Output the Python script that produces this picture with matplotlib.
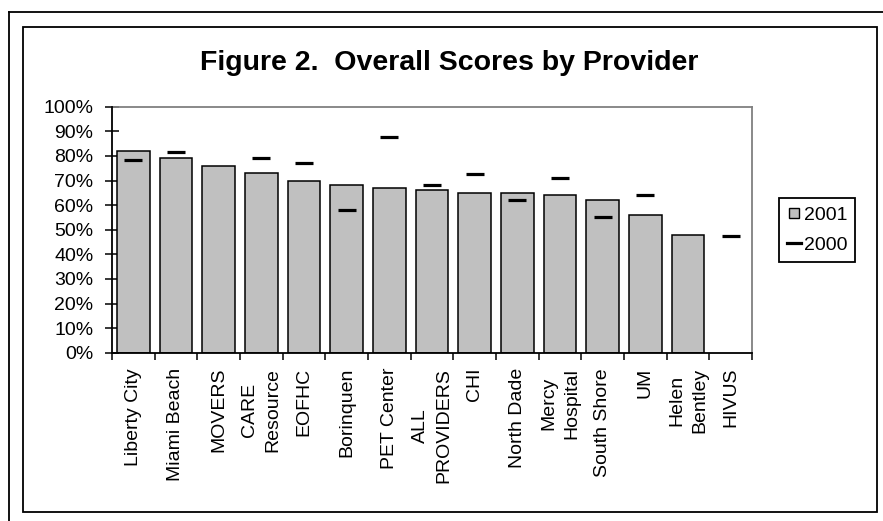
import numpy as np
import matplotlib
matplotlib.use("Agg")
import matplotlib.pyplot as plt
from matplotlib.lines import Line2D
from matplotlib.patches import Rectangle
from matplotlib.ticker import PercentFormatter

# providers, in chart order
providers = ["Liberty City", "Miami Beach", "MOVERS", "CARE\nResource", "EOFHC",
             "Borinquen", "PET Center", "ALL\nPROVIDERS", "CHI", "North Dade",
             "Mercy\nHospital", "South Shore", "UM", "Helen\nBentley", "HIVUS"]
# scores in percent (nan = no score that year)
score_2001 = [82, 79, 76, 73, 70, 68, 67, 66, 65, 65, 64, 62, 56, 48, np.nan]
score_2000 = [78.5, 81.5, np.nan, 79, 77, 58, 87.5, 68, 72.5, 62, 71, 55, 64, np.nan, 47.5]

plt.rcParams['font.family'] = ['Liberation Sans', 'DejaVu Sans']

fig = plt.figure(figsize=(8.83, 5.21), dpi=100)
ax = fig.add_axes([112/883, 1-352.7/521, 640/883, 246/521])

x = np.arange(len(providers))
ax.bar(x, score_2001, width=0.77, color='#C0C0C0', edgecolor='black', linewidth=1.1, zorder=2)
ax.plot(x, score_2000, linestyle='none', marker='_', markersize=13, markeredgewidth=2.3,
        color='black', zorder=3)

ax.set_xlim(-0.5, len(providers) - 0.5)
ax.set_ylim(0, 100)
ax.set_yticks(np.arange(0, 101, 10))
ax.yaxis.set_major_formatter(PercentFormatter(decimals=0))
ax.tick_params(axis='y', direction='inout', length=10.5, width=1.1, labelsize=14, pad=8)

# ticks on category boundaries, labels on centers
ax.set_xticks(np.arange(-0.5, len(providers), 1.0))
ax.set_xticklabels([])
ax.set_xticks(x, minor=True)
ax.set_xticklabels(providers, minor=True, rotation=90, va='top', ha='center',
                   multialignment='center', fontsize=14, linespacing=1.45)
ax.tick_params(axis='x', which='major', direction='out', length=5, width=1.1)
ax.tick_params(axis='x', which='minor', length=0, pad=11)

for s in ['left', 'bottom']:
    ax.spines[s].set_linewidth(1.3)
    ax.spines[s].set_zorder(4)
for s in ['top', 'right']:
    ax.spines[s].set_color('#808080')
    ax.spines[s].set_linewidth(1.3)

fig.text(449/883, 1-70/521, "Figure 2.  Overall Scores by Provider", ha='center',
         va='baseline', fontsize=20.5, fontweight='bold')

h2001 = Line2D([], [], linestyle='none', marker='s', markersize=6.5,
               markerfacecolor='#C0C0C0', markeredgecolor='black', markeredgewidth=1)
h2000 = Line2D([], [], color='black', linewidth=2.3)
leg = fig.legend([h2001, h2000], ['2001', '2000'], loc='center',
                 bbox_to_anchor=(817/883, 1-230/521), fontsize=14, frameon=True,
                 fancybox=False, edgecolor='black', handlelength=0.7, handletextpad=0.15,
                 labelspacing=0.62, borderpad=0.42, borderaxespad=0)
leg.get_frame().set_linewidth(1.3)
leg.get_frame().set_alpha(1)

# chart border and outer page lines
fig.add_artist(Rectangle((23/883, 1-512/521), 854/883, 485/521, transform=fig.transFigure,
                         fill=False, edgecolor='black', linewidth=1.3))
fig.add_artist(Line2D([9/883, 1], [1-12/521, 1-12/521], transform=fig.transFigure,
                      color='black', linewidth=1.3))
fig.add_artist(Line2D([9/883, 9/883], [0, 1-12/521], transform=fig.transFigure,
                      color='black', linewidth=1.3))

fig.savefig("out.png", dpi=100)
